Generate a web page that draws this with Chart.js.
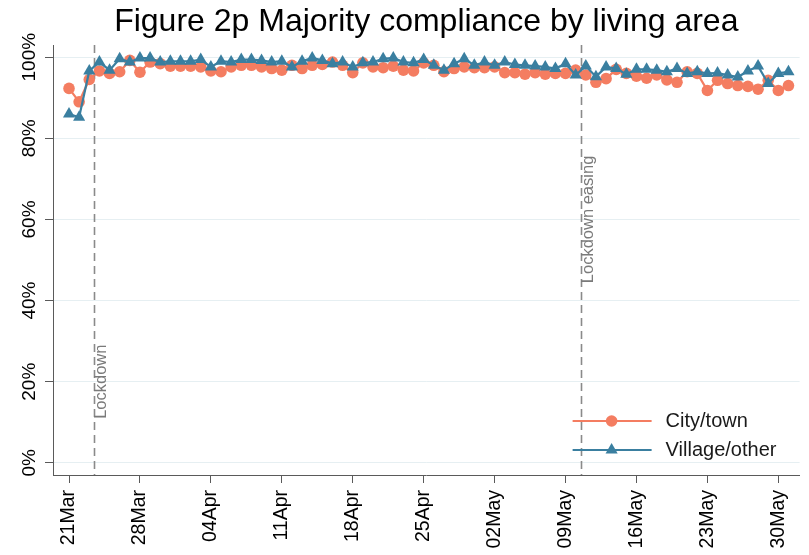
<!DOCTYPE html>
<html><head><meta charset="utf-8">
<script src="https://cdn.jsdelivr.net/npm/chart.js@4.4.1/dist/chart.umd.min.js"></script>
<style>html,body{margin:0;padding:0;background:#fff}#wrap{width:809px;height:555px}</style>
</head><body><div id="wrap"><canvas id="c" width="809" height="555"></canvas></div>
<script>
// ---- data ----
const titleText = 'Figure 2p Majority compliance by living area';
const seriesNames = ['City/town', 'Village/other'];
// day index 0 = 21 Mar 2020 ... 71 = 31 May 2020
const dayIndex = Array.from({length: 72}, (_, i) => i);
const cityTown = [
  92.3, 89.0, 94.5, 96.6, 96.0, 96.4, 99.2, 96.3, 98.8, 98.4,
  97.8, 97.8, 97.8, 97.6, 96.6, 96.4, 97.6, 98.0, 98.0, 97.6,
  97.2, 96.8, 98.0, 97.2, 98.0, 98.2, 98.8, 98.0, 96.2, 98.6,
  97.6, 97.4, 97.8, 96.8, 96.6, 98.6, 98.0, 96.4, 97.2, 97.6,
  97.4, 97.4, 97.6, 96.2, 96.2, 95.8, 96.2, 95.8, 96.0, 96.0,
  96.8, 95.6, 93.8, 94.7, 97.0, 96.0, 95.3, 94.8, 95.6, 94.4,
  93.8, 96.4, 96.0, 91.8, 94.3, 93.5, 93.0, 92.8, 92.1, 94.3,
  91.8, 93.0
];
const villageOther = [
  86.0, 85.2, 96.6, 98.8, 96.8, 99.6, 98.8, 99.8, 99.8, 98.8,
  99.0, 99.0, 99.0, 99.4, 97.6, 99.0, 98.8, 99.4, 99.4, 99.2,
  98.8, 99.0, 97.6, 99.0, 99.8, 99.2, 98.4, 98.8, 97.6, 98.6,
  98.8, 99.6, 99.8, 98.8, 98.6, 99.4, 98.0, 96.8, 98.4, 99.6,
  98.0, 98.8, 98.0, 98.8, 98.2, 98.0, 97.8, 97.6, 97.2, 98.4,
  95.6, 97.8, 95.2, 97.6, 97.2, 95.8, 97.0, 97.0, 96.8, 96.4,
  97.2, 96.0, 96.4, 96.0, 96.1, 95.6, 95.1, 96.6, 97.8, 93.5,
  96.0, 96.4
];
const xTickDays = [0, 7, 14, 21, 28, 35, 42, 49, 56, 63, 70];
const xTickLabels = ['21Mar', '28Mar', '04Apr', '11Apr', '18Apr', '25Apr', '02May', '09May', '16May', '23May', '30May'];
const yTickValues = [0, 20, 40, 60, 80, 100];
const yTickLabels = ['0%', '20%', '40%', '60%', '80%', '100%'];
const eventDays = [2.5, 50.5];
const eventLabels = ['Lockdown', 'Lockdown easing'];
const eventLabelAt = [20, 60];

// ---- styles ----
const FONT = "'Liberation Sans', Arial, sans-serif";
const ORANGE = '#f47d61';
const BLUE = '#3a7fa0';
const AXIS = '#5a5a5a';

const eventPlugin = {
  id: 'events',
  beforeDatasetsDraw(chart) {
    const {ctx, chartArea: a, scales: {x, y}} = chart;
    ctx.save();
    eventDays.forEach((d, i) => {
      const px = Math.round(x.getPixelForValue(d)) + 0.5;
      ctx.strokeStyle = '#8a8a8a';
      ctx.lineWidth = 1.6;
      ctx.setLineDash([8, 5]);
      ctx.beginPath();
      ctx.moveTo(px, a.top);
      ctx.lineTo(px, a.bottom);
      ctx.stroke();
      ctx.setLineDash([]);
      ctx.save();
      ctx.translate(px + 7, y.getPixelForValue(eventLabelAt[i]));
      ctx.rotate(-Math.PI / 2);
      ctx.font = '16.5px ' + FONT;
      ctx.fillStyle = '#7a7a7a';
      ctx.textAlign = 'center';
      ctx.textBaseline = 'middle';
      ctx.fillText(eventLabels[i], 0, 0);
      ctx.restore();
    });
    ctx.restore();
  }
};

const legendPlugin = {
  id: 'insideLegend',
  afterDatasetsDraw(chart) {
    const {ctx, chartArea: a} = chart;
    const items = [
      {label: seriesNames[0], color: ORANGE, style: 'circle', dy: -54},
      {label: seriesNames[1], color: BLUE, style: 'triangle', dy: -25}
    ];
    ctx.save();
    items.forEach(it => {
      const yy = a.bottom + it.dy;
      ctx.strokeStyle = it.color;
      ctx.lineWidth = 2.2;
      ctx.beginPath();
      ctx.moveTo(a.right - 227, yy);
      ctx.lineTo(a.right - 148, yy);
      ctx.stroke();
      const mx = a.right - 188;
      ctx.fillStyle = it.color;
      ctx.beginPath();
      if (it.style === 'circle') {
        ctx.arc(mx, yy, 5.8, 0, Math.PI * 2);
      } else {
        const r = 7;
        ctx.moveTo(mx, yy - r);
        ctx.lineTo(mx + r * 0.866, yy + r * 0.5);
        ctx.lineTo(mx - r * 0.866, yy + r * 0.5);
        ctx.closePath();
      }
      ctx.fill();
      ctx.fillStyle = '#1a1a1a';
      ctx.font = '20px ' + FONT;
      ctx.textAlign = 'left';
      ctx.textBaseline = 'middle';
      ctx.fillText(it.label, a.right - 134, yy);
    });
    ctx.restore();
  }
};

new Chart(document.getElementById('c'), {
  type: 'line',
  data: {
    datasets: [
      {
        label: seriesNames[1],
        data: villageOther.map((v, i) => ({x: dayIndex[i], y: v})),
        borderColor: BLUE, backgroundColor: BLUE, borderWidth: 2.2,
        pointStyle: 'triangle', pointRadius: 7, pointBorderWidth: 0,
        pointBackgroundColor: BLUE, tension: 0, order: 0
      },
      {
        label: seriesNames[0],
        data: cityTown.map((v, i) => ({x: dayIndex[i], y: v})),
        borderColor: ORANGE, backgroundColor: ORANGE, borderWidth: 2.2,
        pointStyle: 'circle', pointRadius: 5.8, pointBorderWidth: 0,
        pointBackgroundColor: ORANGE, tension: 0, order: 1
      }
    ]
  },
  options: {
    responsive: false,
    animation: false,
    layout: {padding: {left: 0, right: 8, top: 0, bottom: 0}},
    plugins: {
      legend: {display: false},
      tooltip: {enabled: false},
      title: {
        display: true, text: titleText, color: '#000', fullSize: false,
        font: {family: FONT, size: 32, weight: 'normal'},
        padding: {top: 3, bottom: 3.6}
      }
    },
    scales: {
      x: {
        type: 'linear', min: -1.58, max: 72.1,
        afterBuildTicks: s => { s.ticks = xTickDays.map(v => ({value: v})); },
        afterFit: s => { s.height = 80; },
        ticks: {
          autoSkip: false, minRotation: 90, maxRotation: 90, padding: 7,
          color: '#000', font: {family: FONT, size: 19.5},
          callback: v => xTickLabels[xTickDays.indexOf(v)]
        },
        grid: {drawOnChartArea: false, drawTicks: true, tickLength: 8, tickColor: AXIS, tickWidth: 1},
        border: {display: true, color: AXIS, width: 1}
      },
      y: {
        min: -3, max: 103,
        afterBuildTicks: s => { s.ticks = yTickValues.map(v => ({value: v})); },
        afterFit: s => { s.width = 53; },
        ticks: {
          minRotation: 90, maxRotation: 90, crossAlign: 'center', padding: -9,
          color: '#000', font: {family: FONT, size: 19},
          callback: v => yTickLabels[yTickValues.indexOf(v)]
        },
        grid: {color: '#e6eff2', lineWidth: 1, drawTicks: true, tickLength: 8, tickColor: AXIS},
        border: {display: true, color: AXIS, width: 1}
      }
    }
  },
  plugins: [eventPlugin, legendPlugin]
});
</script>
</body></html>
